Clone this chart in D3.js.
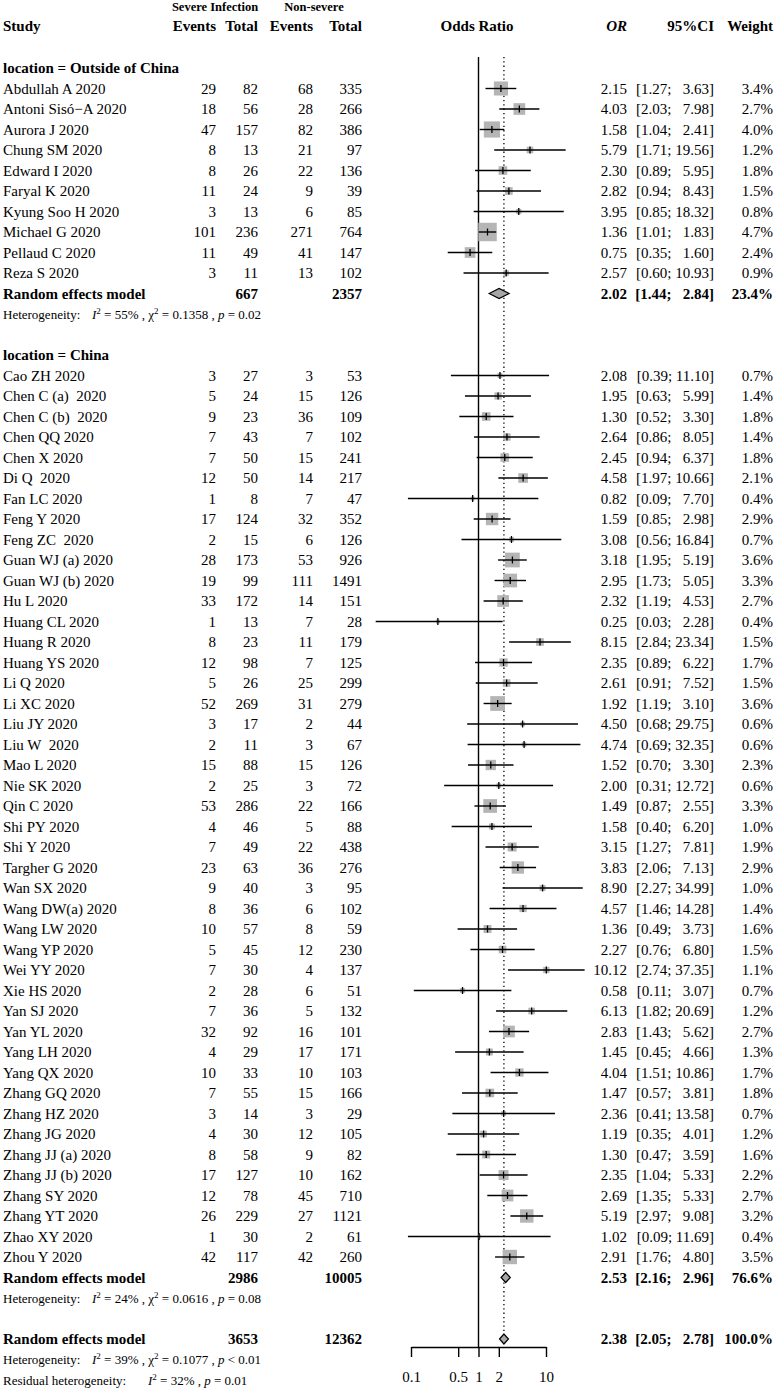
<!DOCTYPE html>
<html>
<head>
<meta charset="utf-8">
<script src="https://cdn.jsdelivr.net/npm/d3@7"></script>
<style>
  body { margin: 0; background: #fff; }
  text { white-space: pre; }
</style>
</head>
<body>
<div id="chart"></div>
<script>
// studies outside China
const outStudies = ["Abdullah A 2020", "Antoni Sisó−A 2020", "Aurora J 2020", "Chung SM 2020", "Edward I 2020",
  "Faryal K 2020", "Kyung Soo H 2020", "Michael G 2020", "Pellaud C 2020", "Reza S 2020"];
const outEvSev = [29, 18, 47, 8, 8, 11, 3, 101, 11, 3];
const outTotSev = [82, 56, 157, 13, 26, 24, 13, 236, 49, 11];
const outEvNon = [68, 28, 82, 21, 22, 9, 6, 271, 41, 13];
const outTotNon = [335, 266, 386, 97, 136, 39, 85, 764, 147, 102];
const outOR = [2.15, 4.03, 1.58, 5.79, 2.30, 2.82, 3.95, 1.36, 0.75, 2.57];
const outLower = [1.27, 2.03, 1.04, 1.71, 0.89, 0.94, 0.85, 1.01, 0.35, 0.60];
const outUpper = [3.63, 7.98, 2.41, 19.56, 5.95, 8.43, 18.32, 1.83, 1.60, 10.93];
const outWeight = [3.4, 2.7, 4.0, 1.2, 1.8, 1.5, 0.8, 4.7, 2.4, 0.9];

// studies in China
const chnStudies = ["Cao ZH 2020", "Chen C (a)  2020", "Chen C (b)  2020", "Chen QQ 2020", "Chen X 2020", "Di Q  2020",
  "Fan LC 2020", "Feng Y 2020", "Feng ZC  2020", "Guan WJ (a) 2020", "Guan WJ (b) 2020", "Hu L 2020", "Huang CL 2020",
  "Huang R 2020", "Huang YS 2020", "Li Q 2020", "Li XC 2020", "Liu JY 2020", "Liu W  2020", "Mao L 2020", "Nie SK 2020",
  "Qin C 2020", "Shi PY 2020", "Shi Y 2020", "Targher G 2020", "Wan SX 2020", "Wang DW(a) 2020", "Wang LW 2020",
  "Wang YP 2020", "Wei YY 2020", "Xie HS 2020", "Yan SJ 2020", "Yan YL 2020", "Yang LH 2020", "Yang QX 2020",
  "Zhang GQ 2020", "Zhang HZ 2020", "Zhang JG 2020", "Zhang JJ (a) 2020", "Zhang JJ (b) 2020", "Zhang SY 2020",
  "Zhang YT 2020", "Zhao XY 2020", "Zhou Y 2020"];
const chnEvSev = [3, 5, 9, 7, 7, 12, 1, 17, 2, 28, 19, 33, 1, 8, 12, 5, 52, 3, 2, 15, 2, 53, 4, 7, 23, 9, 8, 10, 5, 7,
  2, 7, 32, 4, 10, 7, 3, 4, 8, 17, 12, 26, 1, 42];
const chnTotSev = [27, 24, 23, 43, 50, 50, 8, 124, 15, 173, 99, 172, 13, 23, 98, 26, 269, 17, 11, 88, 25, 286, 46, 49,
  63, 40, 36, 57, 45, 30, 28, 36, 92, 29, 33, 55, 14, 30, 58, 127, 78, 229, 30, 117];
const chnEvNon = [3, 15, 36, 7, 15, 14, 7, 32, 6, 53, 111, 14, 7, 11, 7, 25, 31, 2, 3, 15, 3, 22, 5, 22, 36, 3, 6, 8,
  12, 4, 6, 5, 16, 17, 10, 15, 3, 12, 9, 10, 45, 27, 2, 42];
const chnTotNon = [53, 126, 109, 102, 241, 217, 47, 352, 126, 926, 1491, 151, 28, 179, 125, 299, 279, 44, 67, 126, 72,
  166, 88, 438, 276, 95, 102, 59, 230, 137, 51, 132, 101, 171, 103, 166, 29, 105, 82, 162, 710, 1121, 61, 260];
const chnOR = [2.08, 1.95, 1.30, 2.64, 2.45, 4.58, 0.82, 1.59, 3.08, 3.18, 2.95, 2.32, 0.25, 8.15, 2.35, 2.61, 1.92,
  4.50, 4.74, 1.52, 2.00, 1.49, 1.58, 3.15, 3.83, 8.90, 4.57, 1.36, 2.27, 10.12, 0.58, 6.13, 2.83, 1.45, 4.04, 1.47,
  2.36, 1.19, 1.30, 2.35, 2.69, 5.19, 1.02, 2.91];
const chnLower = [0.39, 0.63, 0.52, 0.86, 0.94, 1.97, 0.09, 0.85, 0.56, 1.95, 1.73, 1.19, 0.03, 2.84, 0.89, 0.91, 1.19,
  0.68, 0.69, 0.70, 0.31, 0.87, 0.40, 1.27, 2.06, 2.27, 1.46, 0.49, 0.76, 2.74, 0.11, 1.82, 1.43, 0.45, 1.51, 0.57,
  0.41, 0.35, 0.47, 1.04, 1.35, 2.97, 0.09, 1.76];
const chnUpper = [11.10, 5.99, 3.30, 8.05, 6.37, 10.66, 7.70, 2.98, 16.84, 5.19, 5.05, 4.53, 2.28, 23.34, 6.22, 7.52,
  3.10, 29.75, 32.35, 3.30, 12.72, 2.55, 6.20, 7.81, 7.13, 34.99, 14.28, 3.73, 6.80, 37.35, 3.07, 20.69, 5.62, 4.66,
  10.86, 3.81, 13.58, 4.01, 3.59, 5.33, 5.33, 9.08, 11.69, 4.80];
const chnWeight = [0.7, 1.4, 1.8, 1.4, 1.8, 2.1, 0.4, 2.9, 0.7, 3.6, 3.3, 2.7, 0.4, 1.5, 1.7, 1.5, 3.6, 0.6, 0.6, 2.3,
  0.6, 3.3, 1.0, 1.9, 2.9, 1.0, 1.4, 1.6, 1.5, 1.1, 0.7, 1.2, 2.7, 1.3, 1.7, 1.8, 0.7, 1.2, 1.6, 2.2, 2.7, 3.2, 0.4, 3.5];

// pooled: outside, China, overall
const poolTotSev = [667, 2986, 3653];
const poolTotNon = [2357, 10005, 12362];
const poolOR = [2.02, 2.53, 2.38];
const poolLower = [1.44, 2.16, 2.05];
const poolUpper = [2.84, 2.96, 2.78];
const poolWeight = [23.4, 76.6, 100.0];
const hetI2 = [55, 24, 39];
const hetTau = ["0.1358", "0.0616", "0.1077"];
const hetP = ["= 0.02", "= 0.08", "< 0.01"];
const residI2 = 32, residP = "= 0.01";
const tickValues = [0.1, 0.5, 1, 2, 10];

// pick a Times-like font; squeeze text if only a wide serif is there
const ctx = document.createElement("canvas").getContext("2d");
const sample = "Abdullah A 2020";
function measure(font) { ctx.font = font; return ctx.measureText(sample).width; }
const candidates = ["Liberation Serif", "Tinos", "Times New Roman", "Times", "Nimbus Roman", "Nimbus Roman No9 L",
  "FreeSerif", "DejaVu Serif Condensed", "Noto Serif", "DejaVu Serif"];
let family = "serif";
for (const f of candidates) {
  if (Math.abs(measure(`100px "${f}", monospace`) - measure("100px monospace")) > 0.5) { family = f; break; }
}
const fontStack = `"${family}", serif`;
const sx = Math.min(1, 694.4 / measure(`100px ${fontStack}`));

// build the table rows
const rows = [];
function addStudies(names, es, ns, en, nn, or, lo, hi, w) {
  names.forEach((s, i) => rows.push({type: "study", label: s, es: es[i], ns: ns[i], en: en[i], nn: nn[i],
    or: or[i], lo: lo[i], hi: hi[i], w: w[i]}));
}
function addPooled(k) {
  rows.push({type: "pooled", label: "Random effects model", ns: poolTotSev[k], nn: poolTotNon[k],
    or: poolOR[k], lo: poolLower[k], hi: poolUpper[k], w: poolWeight[k]});
  rows.push({type: "het", k: k});
}
rows.push({type: "group", label: "location = Outside of China"});
addStudies(outStudies, outEvSev, outTotSev, outEvNon, outTotNon, outOR, outLower, outUpper, outWeight);
addPooled(0);
rows.push({type: "blank"});
rows.push({type: "group", label: "location = China"});
addStudies(chnStudies, chnEvSev, chnTotSev, chnEvNon, chnTotNon, chnOR, chnLower, chnUpper, chnWeight);
addPooled(1);
rows.push({type: "blank"});
addPooled(2);
rows.push({type: "resid"});
rows.forEach((r, i) => r.i = i);

const width = 777, height = 1389;
const svg = d3.select("#chart").append("svg")
  .attr("width", width).attr("height", height)
  .style("display", "block").style("font-family", fontStack);

const x = d3.scaleLog().domain([0.1, 10]).range([411, 546]);
const y = d3.scaleLinear().domain([0, rows.length - 1]).range([68, 1380]);
const allW = outWeight.concat(chnWeight);
const box = d3.scaleLinear().domain([0, d3.max(allW)]).range([2.5, 18.5]);

const col = {study: 3, es: 216, ns: 258, en: 313, nn: 362, or: 627, ci: 714, w: 773};
const fs = 15, fsHet = 13;

// text placed with a horizontal squeeze so the widths fit
function txt(g, tx, ty, s, anchor) {
  return g.append("text")
    .attr("transform", `translate(${tx},${ty}) scale(${sx},1)`)
    .attr("dy", "0.35em").attr("text-anchor", anchor || "start").text(s);
}

// headers
const head = svg.append("g").attr("font-weight", "bold").attr("font-size", fs);
txt(head, 215, 7, "Severe Infection", "middle").attr("font-size", 12.5);
txt(head, 314, 7, "Non-severe", "middle").attr("font-size", 12.5);
const hy = 26;
txt(head, col.study, hy, "Study");
[["es", "Events"], ["ns", "Total"], ["en", "Events"], ["nn", "Total"], ["ci", "95%CI"], ["w", "Weight"]]
  .forEach(([k, t]) => txt(head, col[k], hy, t, "end"));
txt(head, col.or, hy, "OR", "end").attr("font-style", "italic");
txt(head, 477, hy, "Odds Ratio", "middle");

// reference lines
const topY = 57;
const lastPooled = rows.filter(r => r.type === "pooled").slice(-1)[0];
svg.append("line").attr("x1", x(1)).attr("x2", x(1)).attr("y1", topY).attr("y2", 1347)
  .attr("stroke", "#000").attr("stroke-width", 1.4);
svg.append("line").attr("x1", x(poolOR[2])).attr("x2", x(poolOR[2]))
  .attr("y1", topY).attr("y2", y(lastPooled.i) - 5)
  .attr("stroke", "#000").attr("stroke-width", 1.3).attr("stroke-dasharray", "1.3,3");

// text columns
const fmtCI = (lo, hi) => "[" + lo.toFixed(2) + "; " + (hi < 10 ? "  " : "") + hi.toFixed(2) + "]";
const tbl = svg.append("g").attr("font-size", fs);
rows.forEach(r => {
  const yy = y(r.i);
  const bold = (r.type === "group" || r.type === "pooled") ? "bold" : null;
  if (r.type === "group" || r.type === "study" || r.type === "pooled") {
    txt(tbl, col.study, yy, r.label).attr("font-weight", bold);
  }
  if (r.type === "study" || r.type === "pooled") {
    const cells = [["ns", r.ns], ["nn", r.nn], ["or", r.or.toFixed(2)], ["ci", fmtCI(r.lo, r.hi)],
      ["w", r.w.toFixed(1) + "%"]];
    if (r.type === "study") cells.push(["es", r.es], ["en", r.en]);
    cells.forEach(([k, v]) => txt(tbl, col[k], yy, v, "end").attr("font-weight", bold));
  }
  if (r.type === "het" || r.type === "resid") {
    const t = txt(tbl, col.study, yy, null).attr("font-size", fsHet);
    const ix = ((r.type === "het" ? 92 : 148) - col.study) / sx;
    t.append("tspan").text(r.type === "het" ? "Heterogeneity:" : "Residual heterogeneity:");
    t.append("tspan").attr("x", ix).attr("font-style", "italic").text("I");
    t.append("tspan").attr("dy", -5).attr("font-size", 9).text("2");
    if (r.type === "het") {
      t.append("tspan").attr("dy", 5).text(" = " + hetI2[r.k] + "% , ");
      t.append("tspan").text("χ");
      t.append("tspan").attr("dy", -5).attr("font-size", 9).text("2");
      t.append("tspan").attr("dy", 5).text(" = " + hetTau[r.k] + " , ");
      t.append("tspan").attr("font-style", "italic").text("p");
      t.append("tspan").text(" " + hetP[r.k]);
    } else {
      t.append("tspan").attr("dy", 5).text(" = " + residI2 + "% , ");
      t.append("tspan").attr("font-style", "italic").text("p");
      t.append("tspan").text(" " + residP);
    }
  }
});

// study squares, CI lines and ticks
const studies = rows.filter(r => r.type === "study");
const plot = svg.append("g");
plot.selectAll("rect.sq").data(studies).enter().append("rect").attr("class", "sq")
  .attr("x", d => x(d.or) - box(d.w) / 2).attr("y", d => y(d.i) - box(d.w) / 2)
  .attr("width", d => box(d.w)).attr("height", d => box(d.w))
  .attr("fill", "#b5b5b5");
plot.selectAll("line.ci").data(studies).enter().append("line").attr("class", "ci")
  .attr("x1", d => x(d.lo)).attr("x2", d => x(d.hi))
  .attr("y1", d => y(d.i)).attr("y2", d => y(d.i))
  .attr("stroke", "#000").attr("stroke-width", 1.4);
plot.selectAll("line.pt").data(studies).enter().append("line").attr("class", "pt")
  .attr("x1", d => x(d.or)).attr("x2", d => x(d.or))
  .attr("y1", d => y(d.i) - 3.5).attr("y2", d => y(d.i) + 3.5)
  .attr("stroke", "#000").attr("stroke-width", 1.3);

// diamonds
const pooled = rows.filter(r => r.type === "pooled");
plot.selectAll("path.dm").data(pooled).enter().append("path").attr("class", "dm")
  .attr("d", d => {
    const yy = y(d.i), h = 5;
    return `M${x(d.lo)},${yy}L${x(d.or)},${yy - h}L${x(d.hi)},${yy}L${x(d.or)},${yy + h}Z`;
  })
  .attr("fill", "#a6a6a6").attr("stroke", "#000").attr("stroke-width", 1.2);

// axis
const axis = svg.append("g").attr("transform", "translate(0,1347)")
  .call(d3.axisBottom(x).tickValues(tickValues).tickFormat(d => String(d))
    .tickSize(10).tickSizeOuter(0).tickPadding(14));
axis.attr("font-family", null).attr("font-size", fs);
axis.selectAll("path, line").attr("stroke", "#000").attr("stroke-width", 1.4);
axis.selectAll("text").attr("fill", "#000").attr("transform", `scale(${sx},1)`);
</script>
</body>
</html>
